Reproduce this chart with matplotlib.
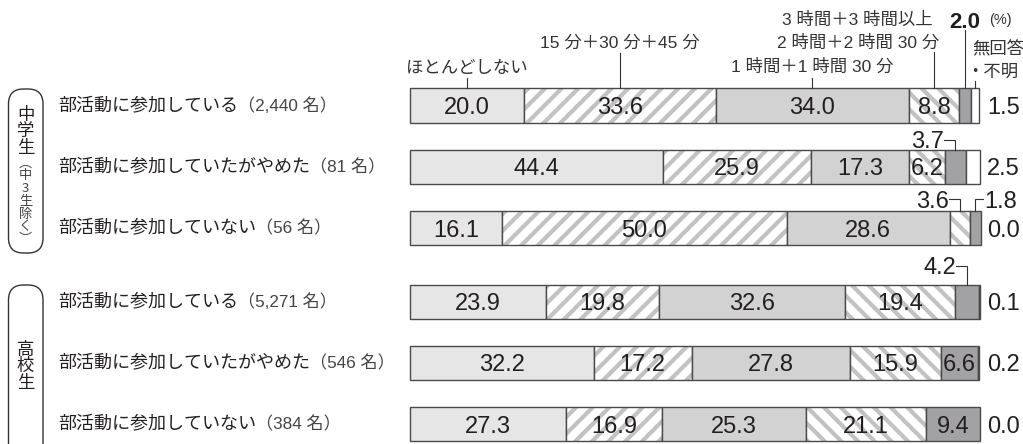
import matplotlib
matplotlib.use("Agg")
import matplotlib.pyplot as plt
from matplotlib.patches import FancyBboxPatch
import numpy as np

plt.rcParams["font.family"] = ["Liberation Sans", "Noto Sans CJK JP", "DejaVu Sans"]
plt.rcParams["hatch.linewidth"] = 3.0

# ---- data -------------------------------------------------------------
row_labels = ["部活動に参加している", "部活動に参加していたがやめた", "部活動に参加していない",
              "部活動に参加している", "部活動に参加していたがやめた", "部活動に参加していない"]
row_counts = ["2,440", "81", "56", "5,271", "546", "384"]
groups = ["中学生", "高校生"]
group_note = "中3生除く"
series_names = ["ほとんどしない", "15 分＋30 分＋45 分", "1 時間＋1 時間 30 分",
                "2 時間＋2 時間 30 分", "3 時間＋3 時間以上", "無回答"]
na_name_2 = "・不明"

hardly = [20.0, 44.4, 16.1, 23.9, 32.2, 27.3]
min15_45 = [33.6, 25.9, 50.0, 19.8, 17.2, 16.9]
hour1 = [34.0, 17.3, 28.6, 32.6, 27.8, 25.3]
hour2 = [8.8, 6.2, 3.6, 19.4, 15.9, 21.1]
hour3 = [2.0, 3.7, 1.8, 4.2, 6.6, 9.4]
no_answer = [1.5, 2.5, 0.0, 0.1, 0.2, 0.0]

values = np.array([hardly, min15_45, hour1, hour2, hour3, no_answer])

# ---- styling ------------------------------------------------------------
fills = ["#e6e6e7", "white", "#d2d2d3", "white", "#a2a2a4", "white"]
hatches = [None, "//", None, "\\\\", None, None]
hatch_col = "#c2c2c3"
edge_col = "#4a4a4a"
txt_col = "#231f20"

W, H = 1023, 444
BAR_LEFT = 410.0      # pixel of 0 %
PX_PCT = 5.7          # pixels per percent
ROW0 = 105.5          # pixel centre of first row
ROW_STEP = 61.3       # pixels per row unit

ypos = np.array([0, 1, 2, 3.2, 4.2, 5.2])
bar_h = 0.555
NUM_FS = 17

fig = plt.figure(figsize=(W / 100, H / 100), dpi=100)
ax = fig.add_axes([0, 0, 1, 1])
ax.set_xlim(-BAR_LEFT / PX_PCT, (W - BAR_LEFT) / PX_PCT)
ax.set_ylim((H - ROW0) / ROW_STEP, -ROW0 / ROW_STEP)
ax.axis("off")

deco = fig.add_axes([0, 0, 1, 1], zorder=-1)
deco.set_xlim(0, W)
deco.set_ylim(H, 0)
deco.axis("off")


def X(px):
    return (px - BAR_LEFT) / PX_PCT


def Y(py):
    return (py - ROW0) / ROW_STEP


def dX(px):
    return px / PX_PCT


def dY(py):
    return py / ROW_STEP


lefts = np.vstack([np.zeros(values.shape[1]), np.cumsum(values, axis=0)[:-1]])
centers = lefts + values / 2

# ---- bars ---------------------------------------------------------------
for k in range(values.shape[0]):
    w = values[k]
    mask = w > 0
    if hatches[k]:
        ax.barh(ypos[mask], w[mask], left=lefts[k][mask], height=bar_h,
                color="white", edgecolor=hatch_col, hatch=hatches[k], linewidth=0)
    else:
        ax.barh(ypos[mask], w[mask], left=lefts[k][mask], height=bar_h,
                color=fills[k], linewidth=0)
    ax.barh(ypos[mask], w[mask], left=lefts[k][mask], height=bar_h,
            fill=False, edgecolor=edge_col, linewidth=1.0)

# values inside segments
for k in range(5):
    for r in range(values.shape[1]):
        v = values[k, r]
        if v >= 5:
            ax.text(centers[k, r], ypos[r], f"{v:.1f}", ha="center", va="center_baseline",
                    fontsize=NUM_FS, color=txt_col)

# no-answer values on the right
for r in range(values.shape[1]):
    ax.text(X(987), ypos[r], f"{no_answer[r]:.1f}", ha="left", va="center_baseline",
            fontsize=NUM_FS, color=txt_col)

# callouts for thin segments: (row, series, side, rise in px)
callouts = [(1, 4, "left", 10), (2, 3, "left", 12), (2, 4, "right", 12), (3, 4, "left", 19)]
for r, k, side, rise in callouts:
    cx = centers[k, r]
    top = ypos[r] - bar_h / 2
    ty = top - dY(rise)
    if side == "left":
        ax.plot([cx - dX(11), cx, cx], [ty, ty, top], color="#333", lw=0.8,
                solid_joinstyle="miter")
        ax.text(cx - dX(11.5), ty, f"{values[k, r]:.1f}", ha="right", va="center_baseline",
                fontsize=NUM_FS, color=txt_col)
    else:
        ax.plot([cx + dX(8), cx, cx], [ty, ty, top], color="#333", lw=0.8,
                solid_joinstyle="miter")
        ax.text(cx + dX(8.5), ty, f"{values[k, r]:.1f}", ha="left", va="center_baseline",
                fontsize=NUM_FS, color=txt_col)

# ---- header labels with leaders to the first row --------------------------
top0 = ypos[0] - bar_h / 2
lead = dict(color="#333", lw=0.8)
hdr = dict(fontsize=12.5, color="#333", va="center")

# (series, text x offset px from segment centre, text y px, ha, leader top px)
header = [(0, 0, 68, "center", 78),
          (1, 0, 43, "center", 53),
          (2, 0, 67, "center", 78),
          (3, 5, 43, "right", 52)]
for k, off, ty, ha, ltop in header:
    cx = centers[k, 0]
    ax.text(cx + dX(off), Y(ty), series_names[k], ha=ha, **hdr)
    ax.plot([cx, cx], [Y(ltop), top0], **lead)

cx = centers[4, 0]
ax.text(cx - dX(33), Y(20), series_names[4], ha="right", **hdr)
ax.text(cx, Y(20), f"{hour3[0]:.1f}", ha="center", va="center_baseline",
        fontsize=16, fontweight="bold", color=txt_col)
ax.text(X(989), Y(20), "(%)", ha="left", va="center", fontsize=10.5, color="#333")
ax.plot([cx, cx], [Y(30), top0], **lead)

cx = centers[5, 0]
ax.text(X(972), Y(49), series_names[5], ha="left", **hdr)
ax.text(X(966), Y(72), na_name_2, ha="left", **hdr)
ax.plot([cx, cx], [Y(81), top0], **lead)

# ---- row labels -----------------------------------------------------------
for r in range(len(row_labels)):
    t = ax.text(X(58), ypos[r], row_labels[r], ha="left", va="center",
                fontsize=13, color=txt_col)
    ax.annotate(f"（{row_counts[r]} 名）", xy=(1, 0.5), xycoords=t,
                ha="left", va="center", fontsize=12.3, color="#444")

# ---- group brackets -----------------------------------------------------
for (y0, y1) in [(89, 253), (285, 480)]:
    deco.add_patch(FancyBboxPatch((8.5, y0), 34.5, y1 - y0,
                                  boxstyle="round,pad=0,rounding_size=15",
                                  fill=False, ec="#333", lw=1.0))

for i, ch in enumerate(groups[0]):
    deco.text(25.5, 115 + i * 16.3, ch, ha="center", va="center", fontsize=12.5,
              color=txt_col, family="Noto Sans CJK JP")
small = ["︵"] + list(group_note) + ["︶"]
for i, ch in enumerate(small):
    deco.text(25.5, 163 + i * 12.8, ch, ha="center", va="center", fontsize=9.5,
              color="#444", family="Noto Sans CJK JP")
for i, ch in enumerate(groups[1]):
    deco.text(25.5, 349.5 + i * 16.7, ch, ha="center", va="center", fontsize=12.5,
              color=txt_col, family="Noto Sans CJK JP")

fig.savefig("out.png", dpi=100)
